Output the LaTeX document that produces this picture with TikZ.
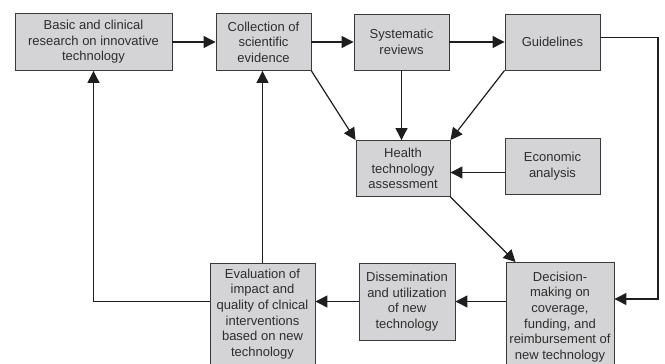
\documentclass[tikz,border=0pt]{standalone}
\usepackage{fontspec}
\setmainfont{Liberation Sans}
\usetikzlibrary{arrows.meta}
\definecolor{boxfill}{HTML}{D4D4D6}
\definecolor{boxline}{HTML}{3A3A3A}
\definecolor{txt}{HTML}{2E2E2E}
\definecolor{conn}{HTML}{1E1E1E}
\begin{document}
\begin{tikzpicture}[x=1pt,y=-1pt,
  box/.style={draw=boxline,fill=boxfill,line width=0.9pt,inner sep=0pt,align=center,
    text=txt,font=\fontsize{13}{15.6}\selectfont},
  conn/.style={draw=conn,line width=1.2pt},
  arr/.style={conn,-{Triangle[length=12pt,width=12pt]}}]
\useasboundingbox (0,0) rectangle (665,364);
\clip (0,0) rectangle (665,364);
\node[box,minimum width=157pt,minimum height=57pt] (basic) at (93.5,42) {Basic and clinical\\research on innovative\\technology};
\node[box,minimum width=95pt,minimum height=57pt] (coll) at (263.5,42) {Collection of\\scientific\\evidence};
\node[box,minimum width=95pt,minimum height=56pt] (sys) at (401.5,42) {Systematic\\reviews};
\node[box,minimum width=95pt,minimum height=56pt] (guide) at (552.5,42) {Guidelines};
\node[box,minimum width=94pt,minimum height=56pt] (hta) at (403,168.5) {Health\\technology\\assessment};
\node[box,minimum width=95pt,minimum height=56pt] (econ) at (552.5,166) {Economic\\analysis};
\node[box,minimum width=96pt,minimum height=77pt] (diss) at (407,301.5) {Dissemination\\and utilization\\of new\\technology};
\node[box,minimum width=108pt,minimum height=109pt] (dec) at (560,317) {Decision-\\making on\\coverage,\\funding, and\\reimbursement of\\new technology};
\node[box,minimum width=105pt,minimum height=102pt] (eval) at (262.5,314) {Evaluation of\\impact and\\quality of clnical\\interventions\\based on new\\technology};
\coordinate (rc) at (658,299);
\coordinate (ea) at ([yshift=-6.5pt]econ.west);
\draw[arr] (basic.east) -- (coll.west);
\draw[arr] (coll.east) -- (sys.west);
\draw[arr] (sys.east) -- (guide.west);
\draw[arr] ([yshift=4.3pt]guide.east) -| (rc) -- (rc -| dec.east);
\draw[arr] (coll.south east) -- (hta.north west);
\draw[arr] (sys.south) -- (sys.south |- hta.north);
\draw[arr] (guide.south west) -- (hta.north east);
\draw[arr] (ea) -- (ea -| hta.east);
\draw[arr] (hta.south east) -- ([xshift=10pt]dec.north west);
\draw[arr] (diss.east -| dec.west) -- (diss.east);
\draw[arr] (diss.west) -- (diss.west -| eval.east);
\draw[arr] (diss.west -| eval.west) -| (basic.south);
\draw[arr] (eval.north) -- (eval.north |- coll.south);
\end{tikzpicture}
\end{document}
